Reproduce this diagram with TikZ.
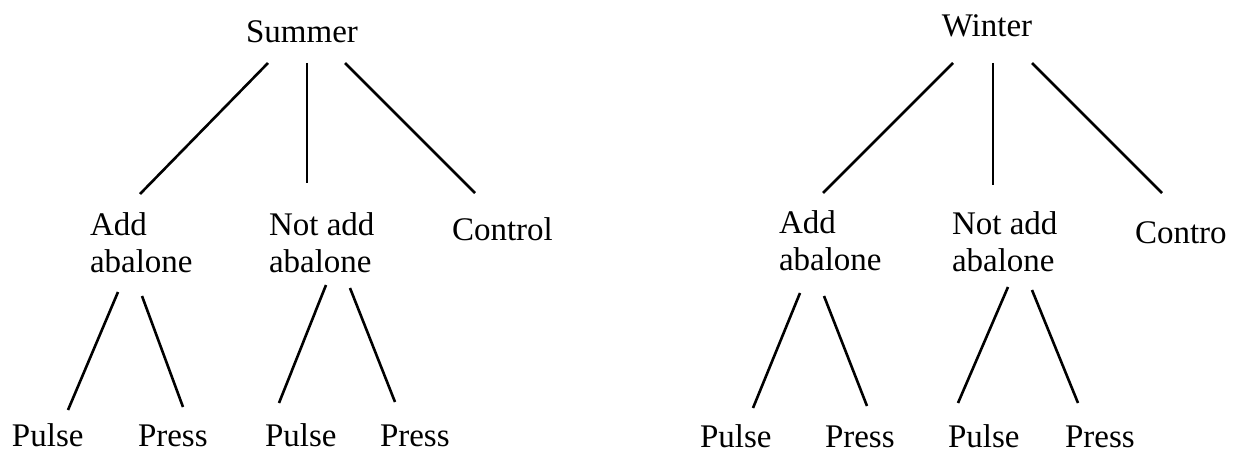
\documentclass[tikz,border=0pt]{standalone}
\usepackage{fontspec}
\setmainfont{Liberation Serif}
\begin{document}
\begin{tikzpicture}[x=1pt,y=-1pt,
  lbl/.style={inner sep=0pt, outer sep=0pt, font=\fontsize{33}{37}\selectfont},
  lbl2/.style={lbl, align=left},
  edge/.style={line width=2.6pt}]
\useasboundingbox (0,0) rectangle (1234,452);
% ---------- Summer tree ----------
\node[lbl, anchor=base] (summer) at (302,43) {Summer};
\node[lbl2, anchor=base west] (add1) at (90,272) {Add\\abalone};
\node[lbl2, anchor=base west] (notadd1) at (269,272) {Not add\\abalone};
\node[lbl, anchor=base west] (control1) at (452,240) {Control};
\node[lbl, anchor=base west] (pulse1) at (12,446) {Pulse};
\node[lbl, anchor=base west] (press1) at (138,446) {Press};
\node[lbl, anchor=base west] (pulse2) at (265,446) {Pulse};
\node[lbl, anchor=base west] (press2) at (380,446) {Press};
\draw[edge] ([shift={(-34,20)}]summer.base) -- ([shift={(50,-78)}]add1.base west);
\draw[edge] ([shift={(5,20)}]summer.base) -- ([shift={(38,-89)}]notadd1.base west);
\draw[edge] ([shift={(43,20)}]summer.base) -- ([shift={(23,-47)}]control1.base west);
\draw[edge] ([shift={(28,20)}]add1.base west) -- ([shift={(56,-36)}]pulse1.base west);
\draw[edge] ([shift={(52,24)}]add1.base west) -- ([shift={(45,-39)}]press1.base west);
\draw[edge] ([shift={(57,13)}]notadd1.base west) -- ([shift={(14,-43)}]pulse2.base west);
\draw[edge] ([shift={(81,16)}]notadd1.base west) -- ([shift={(15,-44)}]press2.base west);
% ---------- Winter tree ----------
\node[lbl, anchor=base] (winter) at (987,37) {Winter};
\node[lbl2, anchor=base west] (add2) at (779,270) {Add\\abalone};
\node[lbl2, anchor=base west] (notadd2) at (952,271) {Not add\\abalone};
\node[lbl, anchor=base west] (control2) at (1135,243) {Contro};
\node[lbl, anchor=base west] (pulse3) at (700,447) {Pulse};
\node[lbl, anchor=base west] (press3) at (825,447) {Press};
\node[lbl, anchor=base west] (pulse4) at (948,447) {Pulse};
\node[lbl, anchor=base west] (press4) at (1065,447) {Press};
\draw[edge] ([shift={(-34,26)}]winter.base) -- ([shift={(44,-77)}]add2.base west);
\draw[edge] ([shift={(6,26)}]winter.base) -- ([shift={(41,-86)}]notadd2.base west);
\draw[edge] ([shift={(45,26)}]winter.base) -- ([shift={(27,-50)}]control2.base west);
\draw[edge] ([shift={(21,23)}]add2.base west) -- ([shift={(53,-39)}]pulse3.base west);
\draw[edge] ([shift={(45,26)}]add2.base west) -- ([shift={(42,-41)}]press3.base west);
\draw[edge] ([shift={(56,16)}]notadd2.base west) -- ([shift={(10,-44)}]pulse4.base west);
\draw[edge] ([shift={(80,19)}]notadd2.base west) -- ([shift={(13,-44)}]press4.base west);
\end{tikzpicture}
\end{document}
